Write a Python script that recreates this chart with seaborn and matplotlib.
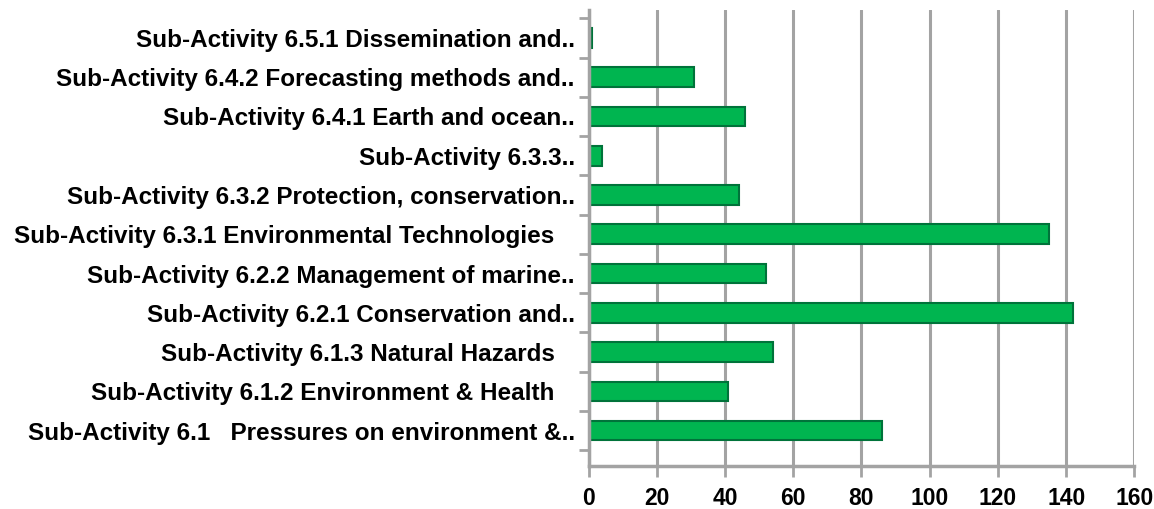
import pandas as pd
import numpy as np
import matplotlib
matplotlib.use('Agg')
import matplotlib.pyplot as plt
import seaborn as sns

labels = [
    'Sub-Activity 6.5.1 Dissemination and..',
    'Sub-Activity 6.4.2 Forecasting methods and..',
    'Sub-Activity 6.4.1 Earth and ocean..',
    'Sub-Activity 6.3.3..',
    'Sub-Activity 6.3.2 Protection, conservation..',
    'Sub-Activity 6.3.1 Environmental Technologies   ',
    'Sub-Activity 6.2.2 Management of marine..',
    'Sub-Activity 6.2.1 Conservation and..',
    'Sub-Activity 6.1.3 Natural Hazards   ',
    'Sub-Activity 6.1.2 Environment & Health   ',
    'Sub-Activity 6.1   Pressures on environment &..',
]
values = [1, 31, 46, 4, 44, 135, 52, 142, 54, 41, 86]
xticks = [0, 20, 40, 60, 80, 100, 120, 140, 160]

df = pd.DataFrame({'activity': labels, 'count': values})

sns.set_style('white')
plt.rcParams['font.family'] = ['Liberation Sans', 'DejaVu Sans']
plt.rcParams['text.color'] = 'black'
plt.rcParams['xtick.labelcolor'] = 'black'
plt.rcParams['ytick.labelcolor'] = 'black'

fig = plt.figure(figsize=(11.54, 5.09), dpi=100)
ax = fig.add_axes([0.510, 0.0845, 0.473, 0.895])

sns.barplot(data=df, x='count', y='activity', orient='h', color='#00b550',
            width=0.5, edgecolor='#00733a', linewidth=1.5, saturation=1, ax=ax)

ax.set_xlim(0, 160)
ax.set_ylim(len(labels) - 0.1, -0.7)
ax.set_xticks(xticks)
ax.set_xticklabels([str(t) for t in xticks])
ax.set_yticks(np.arange(-0.5, len(labels), 1.0), minor=True)
ax.set_xlabel('')
ax.set_ylabel('')
ax.grid(axis='x', color='#a3a3a3', linewidth=2.2)
ax.set_axisbelow(True)

for s in ['top', 'right']:
    ax.spines[s].set_visible(False)
for s in ['left', 'bottom']:
    ax.spines[s].set_color('#a3a3a3')
    ax.spines[s].set_linewidth(2.5)

ax.tick_params(axis='x', bottom=True, length=8, width=2, color='#a3a3a3', pad=7, labelsize=16.5)
ax.tick_params(axis='y', which='major', left=False, length=0, pad=10, labelsize=17.5)
ax.tick_params(axis='y', which='minor', left=True, length=7, width=2, color='#a3a3a3')
for t in ax.get_xticklabels() + ax.get_yticklabels():
    t.set_fontweight('bold')

fig.savefig('out.png', dpi=100)
